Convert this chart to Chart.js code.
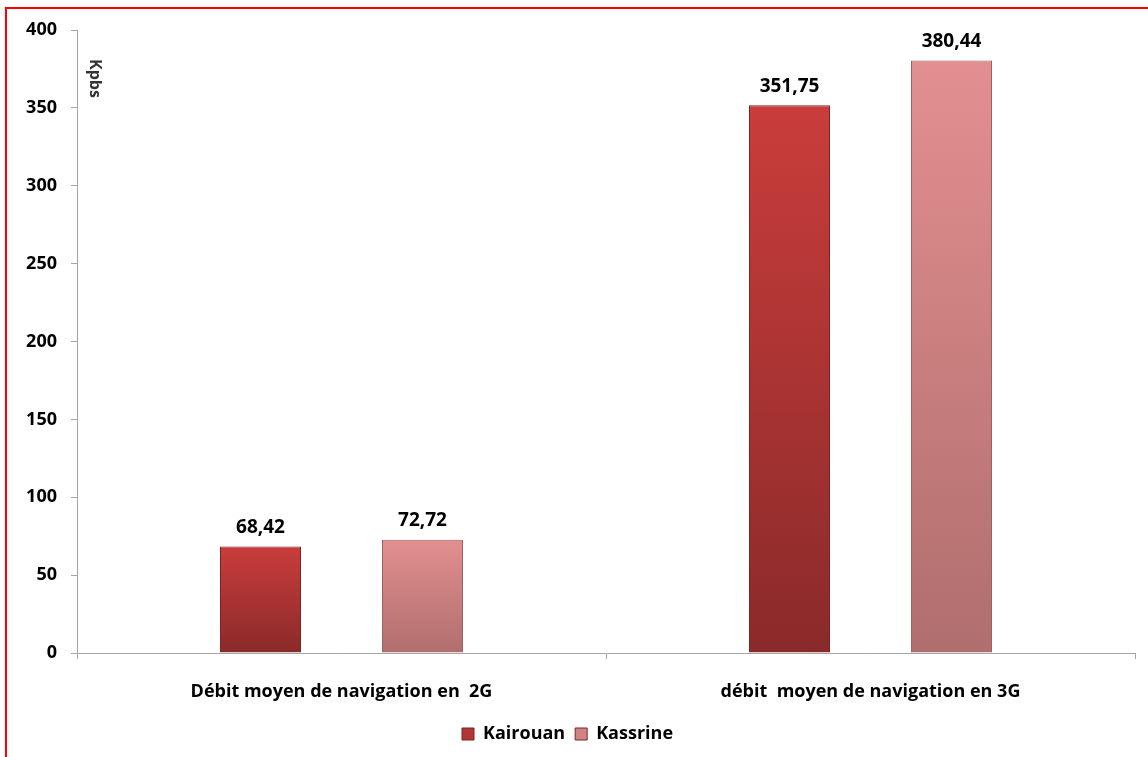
<!DOCTYPE html>
<html>
<head>
<meta charset="utf-8">
<script src="https://cdn.jsdelivr.net/npm/chart.js@4.4.1/dist/chart.umd.min.js"></script>
<style>
  html, body { margin: 0; padding: 0; background: #fff; }
  #wrap { position: relative; width: 1148px; height: 757px; }
</style>
</head>
<body>
<div id="wrap"><canvas id="c" width="1148" height="757"></canvas></div>
<script>
const categories = ['Débit moyen de navigation en  2G', 'débit  moyen de navigation en 3G'];
const kairouan = [68.42, 351.75];
const kassrine = [72.72, 380.44];
const yTicks = [0, 50, 100, 150, 200, 250, 300, 350, 400];
const unitLabel = 'Kpbs';

const FONT = '"Open Sans", "Liberation Sans", sans-serif';
const swatch = ['#b23634', '#cf8585'];

// dégradé vertical par barre (haut clair -> bas foncé)
function barFill(top, bottom) {
    return function (ctx) {
        if (ctx.type !== 'data' || !ctx.chart.chartArea) return top;
        const y = ctx.chart.scales.y;
        const g = ctx.chart.ctx.createLinearGradient(0, y.getPixelForValue(ctx.raw), 0, y.getPixelForValue(0));
        g.addColorStop(0, top);
        g.addColorStop(1, bottom);
        return g;
    };
}

const valueLabels = {
    id: 'valueLabels',
    afterDatasetsDraw(chart) {
        const ctx = chart.ctx;
        ctx.save();
        ctx.font = 'bold 19px ' + FONT;
        ctx.fillStyle = '#000';
        ctx.textAlign = 'center';
        ctx.textBaseline = 'middle';
        chart.data.datasets.forEach((ds, i) => {
            chart.getDatasetMeta(i).data.forEach((bar, j) => {
                ctx.fillText(ds.data[j].toFixed(2).replace('.', ','), bar.x, bar.y - 19);
            });
        });
        ctx.restore();
    }
};

const frame = {
    id: 'frame',
    afterDraw(chart) {
        const ctx = chart.ctx;
        ctx.save();
        // titre d'axe vertical, dans la zone de tracé
        ctx.font = 'bold 16px ' + FONT;
        ctx.fillStyle = '#333';
        ctx.translate(95, 59);
        ctx.rotate(Math.PI / 2);
        ctx.textAlign = 'left';
        ctx.textBaseline = 'middle';
        ctx.fillText(unitLabel, 0, 0);
        ctx.restore();

        ctx.save();
        ctx.strokeStyle = '#ff0000';
        ctx.lineWidth = 2;
        ctx.beginPath();
        ctx.moveTo(1148, 8);
        ctx.lineTo(6, 8);
        ctx.lineTo(6, 757);
        ctx.stroke();
        ctx.restore();
    }
};

new Chart(document.getElementById('c'), {
    type: 'bar',
    data: {
        labels: categories,
        datasets: [{
            label: 'Kairouan',
            data: kairouan,
            backgroundColor: barFill('#c93d3b', '#8a2a2a'),
            borderColor: '#7a2424',
            borderWidth: 1,
            categoryPercentage: 0.6125,
            barPercentage: 0.5
        }, {
            label: 'Kassrine',
            data: kassrine,
            backgroundColor: barFill('#e38f8f', '#b06e6e'),
            borderColor: '#9c6161',
            borderWidth: 1,
            categoryPercentage: 0.6125,
            barPercentage: 0.5
        }]
    },
    options: {
        responsive: false,
        animation: false,
        layout: { padding: { top: 30, right: 13, bottom: 4, left: 0 } },
        scales: {
            x: {
                grid: { display: true, drawOnChartArea: false, drawTicks: true, tickLength: 6, color: '#a6a6a6', offset: true },
                border: { color: '#a6a6a6' },
                ticks: { color: '#000', font: { family: FONT, size: 18, weight: 'bold' }, padding: 22 },
                afterFit(s) { s.height = 62; }
            },
            y: {
                min: 0,
                max: 400,
                afterBuildTicks(s) { s.ticks = yTicks.map(v => ({ value: v })); },
                grid: { display: true, drawOnChartArea: false, drawTicks: true, tickLength: 6, color: '#a6a6a6' },
                border: { color: '#a6a6a6' },
                ticks: { color: '#000', font: { family: FONT, size: 18, weight: 'bold' }, padding: 14 },
                afterFit(s) { s.width = 77; }
            }
        },
        plugins: {
            legend: {
                position: 'bottom',
                labels: {
                    color: '#000',
                    font: { family: FONT, size: 18, weight: 'bold' },
                    boxWidth: 12,
                    boxHeight: 12,
                    padding: 10,
                    generateLabels(chart) {
                        return Chart.defaults.plugins.legend.labels.generateLabels(chart).map((l, i) => {
                            l.fillStyle = swatch[i];
                            l.strokeStyle = '#7a2424';
                            l.lineWidth = 1;
                            return l;
                        });
                    }
                }
            },
            tooltip: { enabled: false }
        }
    },
    plugins: [valueLabels, frame]
});
</script>
</body>
</html>
